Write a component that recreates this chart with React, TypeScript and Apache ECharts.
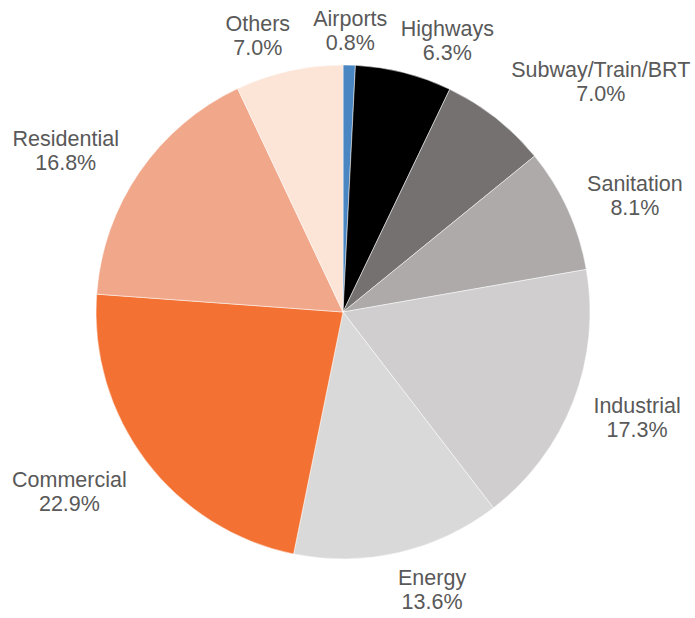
import React, { useEffect, useRef } from "react";
import * as echarts from "echarts";

const categories = [
  "Airports",
  "Highways",
  "Subway/Train/BRT",
  "Sanitation",
  "Industrial",
  "Energy",
  "Commercial",
  "Residential",
  "Others",
];
const values = [0.8, 6.3, 7.0, 8.1, 17.3, 13.6, 22.9, 16.8, 7.0];
const colors = [
  "#4a86c2",
  "#000000",
  "#767171",
  "#aeaaaa",
  "#d0cece",
  "#d9d9d9",
  "#f37132",
  "#f1a78a",
  "#fce4d6",
];
// label fine placement (px) applied after the angular placement rule
const labelNudge: [number, number][] = [
  [0, 7],
  [31, 18],
  [49, 35],
  [4, 15],
  [3, -7],
  [23, -9],
  [-16, -15],
  [-13, 20],
  [-21, 10],
];

const CX = 343;
const CY = 312;
const R = 247;
const GAP = 16;

export default function App() {
  const ref = useRef<HTMLDivElement>(null);
  useEffect(() => {
    if (!ref.current) return;
    const chart = echarts.init(ref.current, undefined, { renderer: "svg" });
    const total = values.reduce((a, b) => a + b, 0);
    const cum: number[] = [];
    let acc = 0;
    values.forEach((v) => {
      cum.push(acc + v / 2);
      acc += v;
    });
    chart.setOption({
      animation: false,
      backgroundColor: "#ffffff",
      series: [
        {
          type: "pie",
          center: [CX, CY],
          radius: R,
          startAngle: 90,
          clockwise: true,
          avoidLabelOverlap: false,
          data: categories.map((name, i) => ({
            name,
            value: values[i],
            itemStyle: { color: colors[i] },
          })),
          itemStyle: { borderColor: "#ffffff", borderWidth: 0.5 },
          label: {
            show: true,
            position: "outside",
            formatter: (p: any) => `${p.name}\n${Number(p.value).toFixed(1)}%`,
            fontFamily: "Liberation Sans, Arial, sans-serif",
            fontSize: 21.5,
            lineHeight: 24,
            color: "#595959",
            align: "center",
          },
          labelLine: { show: false },
          emphasis: { disabled: true },
          labelLayout: (params: any) => {
            const i = params.dataIndex;
            const a = (cum[i] / total) * Math.PI * 2;
            const s = Math.sin(a);
            const c = Math.cos(a);
            const w = params.labelRect.width;
            const h = params.labelRect.height;
            const d = R + GAP + Math.abs(s) * (w / 2) + Math.abs(c) * (h / 2);
            const n = labelNudge[i] || [0, 0];
            return {
              x: CX + d * s + n[0],
              y: CY - d * c + n[1],
              align: "center",
              verticalAlign: "middle",
            };
          },
        },
      ],
    });
    return () => chart.dispose();
  }, []);
  return (
    <div
      ref={ref}
      style={{ position: "fixed", left: 0, top: 0, width: 695, height: 618 }}
    />
  );
}
